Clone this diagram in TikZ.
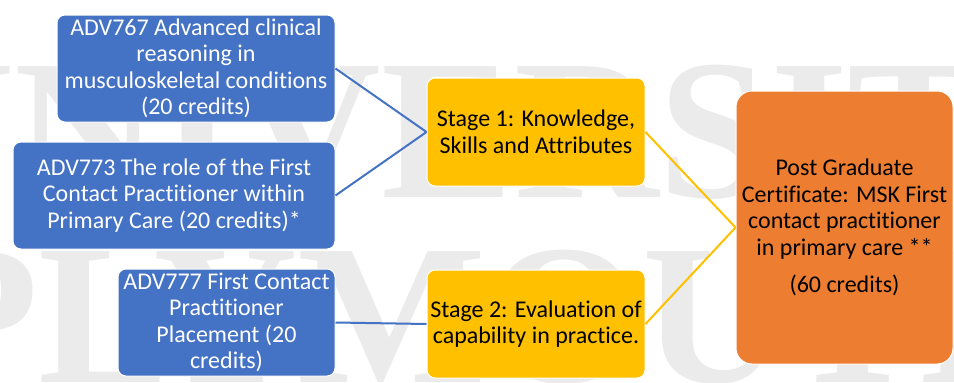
\documentclass[tikz,border=0pt]{standalone}
\usepackage{fontspec}
\setmainfont{Carlito}[RawFeature={-liga;-clig}]
\newfontfamily\wmfont{Liberation Serif}
\usetikzlibrary{positioning}

\definecolor{modblue}{HTML}{4472C4}
\definecolor{stageyel}{HTML}{FFC000}
\definecolor{awardor}{HTML}{ED7D31}
\definecolor{wmgray}{HTML}{EBEBEB}

\tikzset{
  module/.style={draw=white, line width=1pt, fill=modblue, text=white, rounded corners=8pt,
    minimum height=107pt, align=center, inner sep=2pt},
  stage/.style={draw=white, line width=1pt, fill=stageyel, text=black, rounded corners=8pt,
    minimum width=218pt, minimum height=108pt, align=center, inner sep=2pt},
  award/.style={draw=white, line width=1pt, fill=awardor, text=black, rounded corners=16pt,
    minimum width=217pt, minimum height=273pt, align=center, inner sep=2pt},
  wmark/.style={text=wmgray, font=\wmfont\bfseries\fontsize{200}{200}\selectfont,
    inner sep=0pt, anchor=base west},
  link/.style={line width=2pt}
}

\begin{document}
\begin{tikzpicture}[x=1pt, y=-1pt, font=\fontsize{24}{26.5}\selectfont]
  \clip (0,0) rectangle (954,383);

  % watermark
  \node[wmark] (wmtop) at (-130,197) {UNIVERSITY};
  \node[wmark] (wmbot) at (-84,382) {PLYMOUTH};

  % modules
  \node[module, minimum width=278pt] (adv767) at (196,68.5)
    {ADV767 Advanced clinical\\reasoning in\\musculoskeletal conditions\\(20 credits)};
  \node[module, minimum width=322pt] (adv773) at (174,195.5)
    {ADV773 The role of the First\\Contact Practitioner within\\Primary Care (20 credits)*};
  \node[module, minimum width=217pt] (adv777) at (226.5,322.5)
    {ADV777 First Contact\\Practitioner\\Placement (20\\credits)};

  % stages
  \node[stage] (stage1) at (536,132) {Stage 1: Knowledge,\\Skills and Attributes};
  \node[stage, below=83pt of stage1] (stage2) {Stage 2: Evaluation of\\capability in practice.};

  % award
  \node[award] (pgcert) at (844.5,227.5)
    {Post Graduate\\Certificate: MSK First\\contact practitioner\\in primary care **\\[11pt](60 credits)};

  \draw[link, modblue] (adv767.east) -- (stage1.west);
  \draw[link, modblue] (adv773.east) -- (stage1.west);
  \draw[link, modblue] (adv777.east) -- (stage2.west);
  \draw[link, stageyel] (stage1.east) -- (pgcert.west);
  \draw[link, stageyel] (stage2.east) -- (pgcert.west);
\end{tikzpicture}
\end{document}
